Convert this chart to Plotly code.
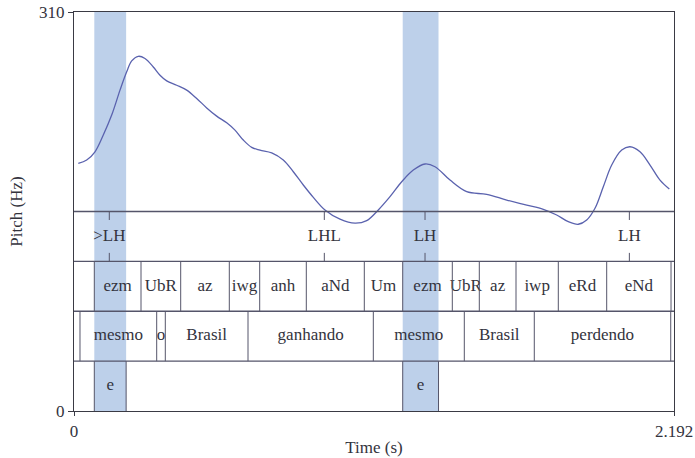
import plotly.graph_objects as go

# ---------------- data ----------------
pitch_time = [0.0157, 0.0464, 0.0767, 0.1070, 0.1377, 0.1681, 0.1925, 0.2108, 0.2349, 0.2594,
              0.2897, 0.3142, 0.3387, 0.3752, 0.4117, 0.4483, 0.4848, 0.5213, 0.5579, 0.5882,
              0.6185, 0.6492, 0.6795, 0.7223, 0.7646, 0.8012, 0.8377, 0.8743, 0.9170, 0.9718,
              1.0266, 1.0693, 1.1117, 1.1545, 1.1972, 1.2396, 1.2823, 1.3189, 1.3737, 1.4347,
              1.5077, 1.5808, 1.6539, 1.7145, 1.7635, 1.8058, 1.8424, 1.8731, 1.9034, 1.9337,
              1.9644, 2.0010, 2.0313, 2.0678, 2.1044, 2.1409, 2.1749]
pitch_hz = [192.4, 195.0, 201.4, 214.4, 229.9, 249.3, 263.5, 272.0, 275.6, 273.9,
            267.3, 260.9, 256.5, 253.1, 249.3, 242.8, 235.5, 229.1, 223.9, 218.2,
            210.5, 204.8, 202.7, 200.6, 195.0, 185.9, 175.6, 166.0, 156.2, 149.0,
            145.9, 147.9, 156.2, 166.5, 178.1, 187.2, 191.9, 189.8, 179.4, 170.4,
            168.3, 163.9, 160.0, 156.7, 152.3, 147.1, 145.1, 148.4, 157.5, 174.2,
            191.1, 202.7, 205.3, 201.4, 191.1, 179.4, 172.5]

x_max = 2.192
y_max = 310

# tier 1: point tier (tones)
tone_times = [0.129, 0.9145, 1.2824, 2.0289]
tone_labels = [">LH", "LHL", "LH", "LH"]

# tier 2: syllables (interval tier)
syl_bounds = [0.0, 0.0742, 0.2448, 0.3898, 0.5674, 0.6784, 0.8487, 1.0606, 1.2009,
              1.3821, 1.4807, 1.6148, 1.7693, 1.9461, 2.1811, 2.192]
syl_labels = ["", "ezm", "UbR", "az", "iwg", "anh", "aNd", "Um", "ezm",
              "UbR", "az", "iwp", "eRd", "eNd", ""]

# tier 3: words (interval tier)
word_bounds = [0.0, 0.0219, 0.3021, 0.3336, 0.6357, 1.0935, 1.4259, 1.6816, 2.1800, 2.192]
word_labels = ["", "mesmo", "o", "Brasil", "ganhando", "mesmo", "Brasil", "perdendo", ""]

# tier 4: focus (interval tier)
focus_bounds = [0.0, 0.0742, 0.1905, 1.2009, 1.3317, 2.192]
focus_labels = ["", "e", "", "e", ""]

# highlighted regions
highlight_start = [0.0742, 1.2009]
highlight_end = [0.1905, 1.3317]

# ---------------- styling ----------------
FONT = "Liberation Serif, Times New Roman, serif"
TXT = "#33333d"
LINE = "#55556a"
FRAME = "#3a3a44"
CURVE = "#5a62ae"
BAND = "#bdd0ea"

n_tiers = 4
tier_h = y_max / 8.0          # each tier is 1/8 of the full height
tier_top = [y_max / 2 - i * tier_h for i in range(n_tiers)]   # 155, 116.25, 77.5, 38.75
tier_bot = [t - tier_h for t in tier_top]
tick_len = 6.6

fig = go.Figure()
shapes = []

# highlight bands
for a, b in zip(highlight_start, highlight_end):
    shapes.append(dict(type="rect", xref="x", yref="y", x0=a, x1=b, y0=0, y1=y_max,
                       fillcolor=BAND, line=dict(width=0), layer="below"))

# tier horizontal separators (top of each tier)
for top in tier_top:
    shapes.append(dict(type="line", xref="x", yref="y", x0=0, x1=x_max, y0=top, y1=top,
                       line=dict(color=LINE, width=1.3)))

# point tier ticks
for t in tone_times:
    shapes.append(dict(type="line", xref="x", yref="y", x0=t, x1=t,
                       y0=tier_top[0], y1=tier_top[0] - tick_len, line=dict(color=LINE, width=1)))
    shapes.append(dict(type="line", xref="x", yref="y", x0=t, x1=t,
                       y0=tier_bot[0], y1=tier_bot[0] + tick_len, line=dict(color=LINE, width=1)))

# interval tiers
interval_tiers = [(syl_bounds, syl_labels), (word_bounds, word_labels), (focus_bounds, focus_labels)]
for k, (bounds, labels) in enumerate(interval_tiers, start=1):
    for b in bounds[1:-1]:
        shapes.append(dict(type="line", xref="x", yref="y", x0=b, x1=b,
                           y0=tier_bot[k], y1=tier_top[k], line=dict(color=LINE, width=1)))
    mids = [(bounds[i] + bounds[i + 1]) / 2 for i in range(len(labels))]
    ymid = (tier_top[k] + tier_bot[k]) / 2
    fig.add_trace(go.Scatter(x=mids, y=[ymid] * len(labels), mode="text", text=labels,
                             textfont=dict(family=FONT, size=17, color=TXT),
                             hoverinfo="skip", showlegend=False))

# point tier labels
fig.add_trace(go.Scatter(x=tone_times, y=[(tier_top[0] + tier_bot[0]) / 2] * len(tone_times),
                         mode="text", text=tone_labels,
                         textfont=dict(family=FONT, size=17, color=TXT),
                         hoverinfo="skip", showlegend=False))

# pitch curve
fig.add_trace(go.Scatter(x=pitch_time, y=pitch_hz, mode="lines",
                         line=dict(color=CURVE, width=1.3, shape="spline", smoothing=1.0),
                         hoverinfo="skip", showlegend=False))

fig.update_layout(
    width=695, height=458,
    margin=dict(l=74, r=21, t=12, b=47, autoexpand=False),
    paper_bgcolor="white", plot_bgcolor="white",
    shapes=shapes,
    showlegend=False,
    font=dict(family=FONT, size=16, color=TXT),
    xaxis=dict(range=[0, x_max], tickvals=[0, x_max], ticktext=["0", "2.192"],
               ticks="outside", ticklen=4, tickcolor=FRAME, showgrid=False, zeroline=False,
               showline=True, linecolor=FRAME, linewidth=1.3, mirror=True, automargin=False,
               tickfont=dict(family=FONT, size=17, color=TXT),
               title=dict(text="Time (s)", font=dict(family=FONT, size=17, color=TXT), standoff=1)),
    yaxis=dict(range=[0, y_max], tickvals=[0, y_max], ticktext=["0", "310"],
               ticks="outside", ticklen=5, tickcolor=FRAME, showgrid=False, zeroline=False,
               showline=True, linecolor=FRAME, linewidth=1.3, mirror=True, automargin=False,
               tickfont=dict(family=FONT, size=17, color=TXT),
               title=dict(text="Pitch (Hz)", font=dict(family=FONT, size=17, color=TXT), standoff=12)),
)

fig.write_html("out.html")
